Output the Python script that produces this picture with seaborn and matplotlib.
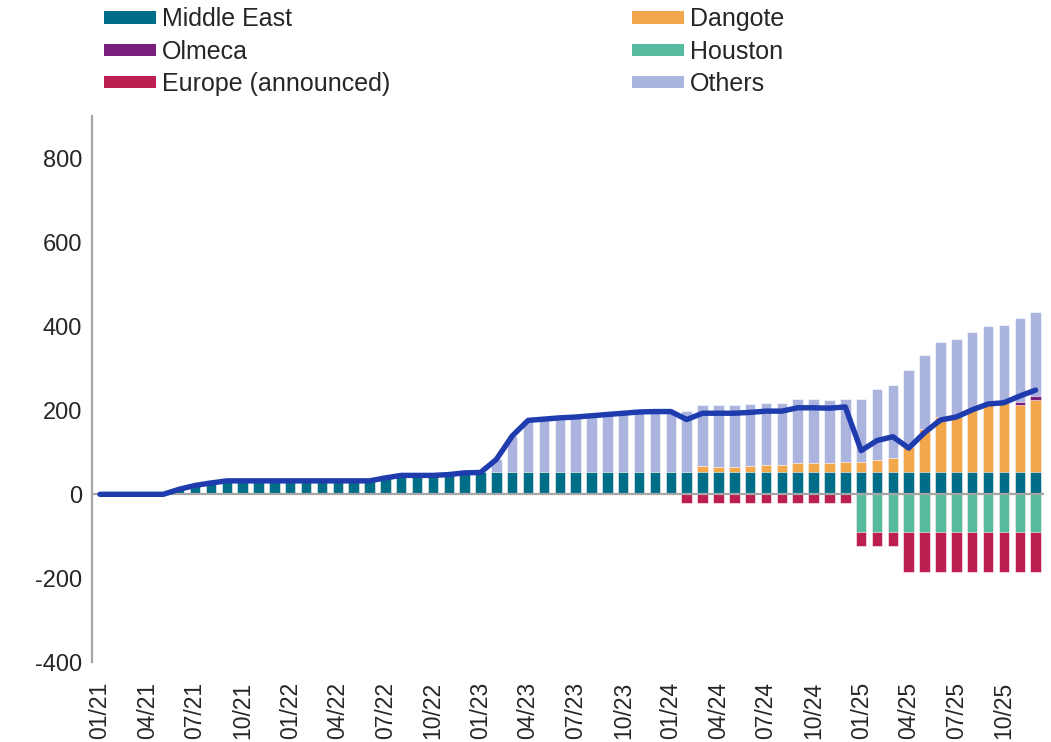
import numpy as np
import pandas as pd
import matplotlib
matplotlib.use("Agg")
import matplotlib.pyplot as plt
from matplotlib.patches import Patch
import seaborn as sns

# Monthly categories, Jan 2021 - Dec 2025
months = list(pd.date_range("2021-01-01", periods=60, freq="MS").strftime("%m/%y"))

# Capacity changes by source (kb/d)
middle_east = [0, 0, 0, 0, 0, 12, 21, 27, 32, 32, 32, 32, 32, 32, 32, 32, 32, 32,
               39, 45, 45, 45, 47, 51, 52] + [52] * 35
dangote = [0] * 38 + [15, 14, 14, 15, 17, 18, 23, 23, 23, 26, 26, 30, 35, 60,
                      103, 131, 134, 149, 164, 165, 160, 173]
olmeca = [0] * 58 + [8, 8]
others = [0] * 25 + [31, 87, 124, 127, 130, 132, 135, 138, 141, 144, 145, 145,
                     146, 146, 147, 147, 148, 149, 148, 151, 151, 150, 150, 149,
                     169, 173, 183, 177, 179, 183, 185, 184, 186, 199, 200]
houston = [0] * 48 + [-90] * 12
europe = [0] * 37 + [-20] * 11 + [-33] * 3 + [-95] * 9

# Net balance line
net_balance = [0, 0, 0, 0, 0, 12, 21, 27, 32, 32, 32, 32, 32, 32, 32, 32, 32, 32,
               39, 45, 45, 45, 47, 51, 52, 83, 139, 176, 179, 182, 184, 187, 190,
               193, 196, 197, 197, 178, 193, 193, 193, 195, 198, 198, 206, 206,
               205, 208, 104, 128, 137, 110, 147, 177, 184, 201, 215, 218, 234, 248]

colors = {
    "Middle East": "#006E88",
    "Olmeca": "#7A1F7E",
    "Europe (announced)": "#BC1F50",
    "Dangote": "#F2A74B",
    "Houston": "#57BC9F",
    "Others": "#AAB4DF",
}
line_color = "#1F3CAE"

sns.set_style("white")
plt.rcParams["font.family"] = ["Liberation Sans", "DejaVu Sans"]
plt.rcParams["axes.unicode_minus"] = False

df = pd.DataFrame({
    "month": months,
    "Middle East": middle_east,
    "Dangote": dangote,
    "Olmeca": olmeca,
    "Others": others,
    "Houston": houston,
    "Europe (announced)": europe,
})

# Cumulative stack tops, drawn back to front so each layer covers the one below
df["pos_others"] = df["Middle East"] + df["Dangote"] + df["Olmeca"] + df["Others"]
df["pos_olmeca"] = df["Middle East"] + df["Dangote"] + df["Olmeca"]
df["pos_dangote"] = df["Middle East"] + df["Dangote"]
df["neg_europe"] = df["Houston"] + df["Europe (announced)"]

fig = plt.figure(figsize=(10.51, 7.42), dpi=100)
ax = fig.add_axes([0.0875, 0.1074, 0.9054, 0.7359])

bar_kw = dict(x="month", errorbar=None, saturation=1, width=0.66,
              edgecolor="white", linewidth=0.4, ax=ax, zorder=2)
layers = [
    ("pos_others", "Others"),
    ("pos_olmeca", "Olmeca"),
    ("pos_dangote", "Dangote"),
    ("Middle East", "Middle East"),
    ("neg_europe", "Europe (announced)"),
    ("Houston", "Houston"),
]
for col, name in layers:
    sns.barplot(data=df, y=col, color=colors[name], **bar_kw)

ax.axhline(0, color="#A6A6A6", linewidth=1.6, zorder=3)

sns.lineplot(x=np.arange(len(months)), y=net_balance, color=line_color,
             linewidth=3.9, ax=ax, zorder=4, solid_joinstyle="round",
             solid_capstyle="round")

ax.set_xlim(-0.5, len(months) - 0.5)
ax.set_ylim(-400, 900)
ax.set_yticks(np.arange(-400, 801, 200))
ax.set_xticks(np.arange(0, len(months), 3))
ax.set_xticklabels(months[::3], rotation=90)
ax.set_xlabel("")
ax.set_ylabel("")
ax.tick_params(axis="y", length=0, pad=7, labelsize=17)
ax.tick_params(axis="x", length=0, pad=14, labelsize=16.5)

for side in ("top", "right", "bottom"):
    ax.spines[side].set_visible(False)
ax.spines["left"].set_color("#A6A6A6")
ax.spines["left"].set_linewidth(1.6)

order = ["Middle East", "Olmeca", "Europe (announced)", "Dangote", "Houston", "Others"]
handles = [Patch(facecolor=colors[n], edgecolor="none", label=n) for n in order]
fig.legend(handles=handles, loc="upper left", bbox_to_anchor=(0.099, 0.990),
           ncol=2, frameon=False, fontsize=18, handlelength=2.08,
           handleheight=0.38, handletextpad=0.22, columnspacing=9.7,
           labelspacing=0.33, borderpad=0, borderaxespad=0)

fig.savefig("out.png", dpi=100)
